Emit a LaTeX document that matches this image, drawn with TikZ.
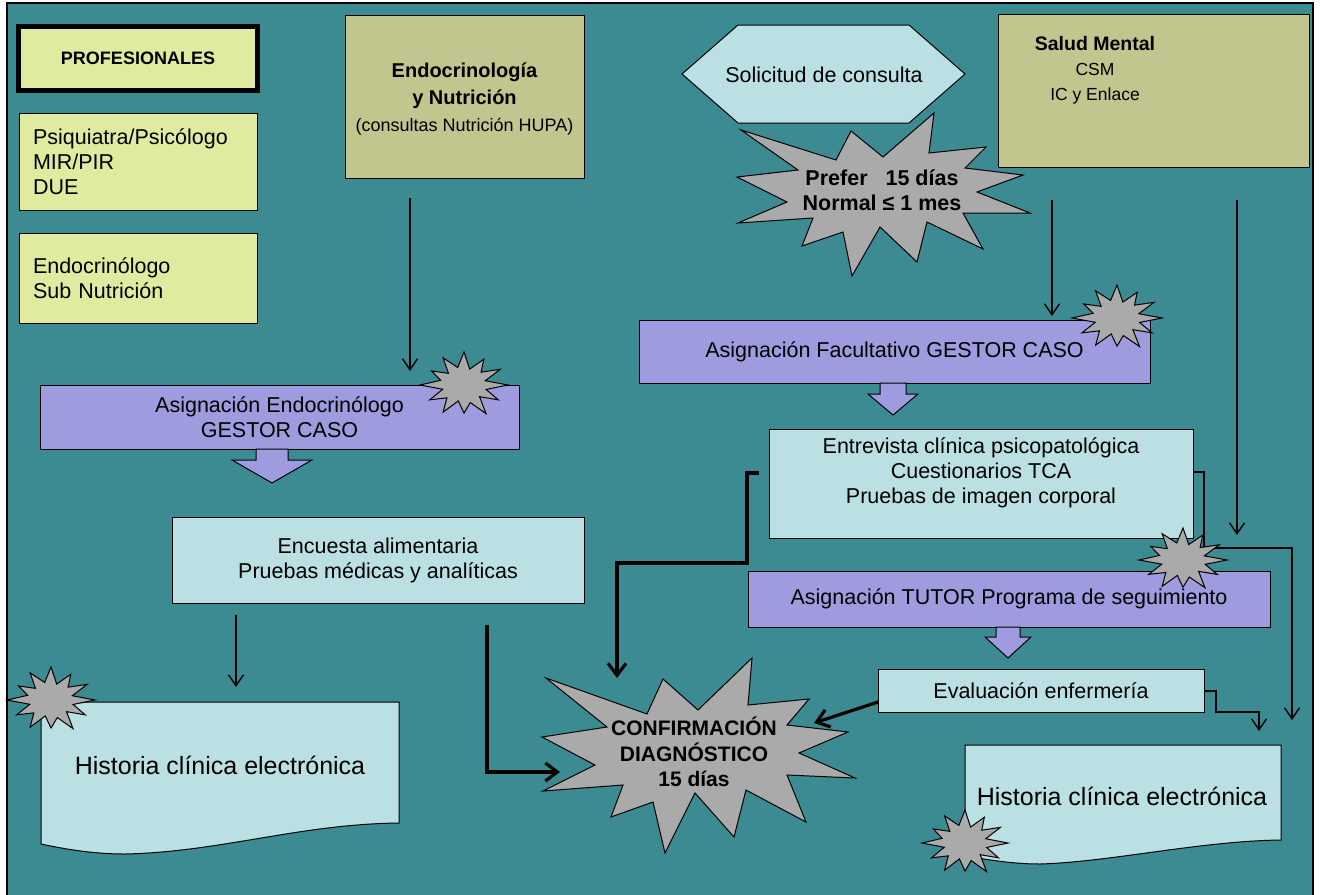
\documentclass[tikz,border=0pt]{standalone}
\usepackage{fontspec}
\setmainfont{Liberation Sans}
\usetikzlibrary{arrows.meta}

\definecolor{bgteal}{RGB}{60,139,146}
\definecolor{legendfill}{RGB}{224,235,160}
\definecolor{olive}{RGB}{194,197,142}
\definecolor{pale}{RGB}{186,224,227}
\definecolor{lilac}{RGB}{158,155,222}
\definecolor{burstgray}{RGB}{170,170,170}

\newcommand{\txtbody}{\fontsize{21.5}{25}\selectfont}
\newcommand{\txtdoc}{\fontsize{25}{29}\selectfont}
\newcommand{\txthead}{\fontsize{20}{27}\selectfont\bfseries}
\newcommand{\txtsub}{\fontsize{18}{26}\selectfont\mdseries}
\newcommand{\txtsalud}{\fontsize{17.5}{25}\selectfont}
\newcommand{\txtburst}{\fontsize{21.5}{25}\selectfont\bfseries}
\newcommand{\txtconf}{\fontsize{21}{25.5}\selectfont\bfseries}

% small twelve-point burst centred at (#1,#2) with radii #3, #4
\newcommand{\spark}[4]{%
  \begin{scope}[shift={(#1,#2)}]
    \draw[burstshape] (0:#3 and #4)
      \foreach \ang/\rad in {15/0.52,30/0.9,45/0.5,60/1.0,75/0.55,90/0.85,105/0.5,120/0.95,135/0.55,150/0.9,165/0.5,180/1.0,195/0.55,210/0.85,225/0.5,240/0.95,255/0.55,270/1.0,285/0.5,300/0.9,315/0.55,330/0.95,345/0.5}
        { -- (\ang:{\rad*#3} and {\rad*#4}) } -- cycle;
  \end{scope}}

% fat down arrow: centre x, top y, shaft half width, head half width, shaft end y, tip y
\newcommand{\downblock}[6]{%
  \draw[blockarrow] ({#1-#3},#2) -- ({#1+#3},#2) -- ({#1+#3},#5) -- ({#1+#4},#5)
    -- (#1,#6) -- ({#1-#4},#5) -- ({#1-#3},#5) -- cycle;}

\begin{document}
\begin{tikzpicture}[x=1pt,y=-1pt,
  panel/.style={draw=black, line width=1pt, inner sep=0pt, outer sep=0pt, anchor=north west},
  legendbox/.style={panel, fill=legendfill},
  headbox/.style={panel, fill=olive},
  stepbox/.style={panel, fill=lilac},
  infobox/.style={panel, fill=pale},
  txt/.style={inner sep=0pt, outer sep=0pt, align=center},
  burstshape/.style={draw=black, line width=1pt, fill=burstgray, line join=miter},
  blockarrow/.style={draw=black, line width=1pt, fill=lilac},
  thinconn/.style={draw=black, line width=1.4pt, -{Straight Barb[length=11pt,width=15pt]}},
  thickconn/.style={draw=black, line width=3.2pt, -{Straight Barb[length=12pt,width=18pt]}}
]
\useasboundingbox (0,0) rectangle (1322,894);
\fill[white] (0,0) rectangle (1322,894);
\draw[fill=bgteal, line width=1.5pt] (7,3) rectangle (1313,897);

% legend
\node[legendbox, line width=4.5pt, minimum width=239pt, minimum height=64pt,
      font=\fontsize{18}{22}\selectfont\bfseries] (prof) at (18.5,26.5) {PROFESIONALES};
\node[legendbox, minimum width=238pt, minimum height=97pt, inner xsep=14pt,
      text width=210pt, align=left, font=\txtbody] (legpsi) at (19,113)
      {Psiquiatra/Psicólogo\\MIR/PIR\\DUE};
\node[legendbox, minimum width=238pt, minimum height=90pt, inner xsep=14pt,
      text width=210pt, align=left, font=\txtbody] (legendo) at (19,233)
      {Endocrinólogo\\Sub Nutrición};

% services
\node[headbox, minimum width=239pt, minimum height=163pt] (endo) at (345,15) {};
\node[txt, font=\txthead] (endotxt) at (464.5,99)
  {Endocrinología\\y Nutrición\\{\txtsub (consultas Nutrición HUPA)}};
\node[headbox, minimum width=311pt, minimum height=153pt] (salud) at (998,14) {};
\node[txt, font=\txtsalud] (saludtxt) at (1095,70)
  {{\fontsize{19.5}{25}\selectfont\bfseries Salud Mental}\\CSM\\IC y Enlace};

% request and waiting times
\draw[fill=pale, line width=1pt] (682,74) -- (738,25) -- (909,25) -- (965,74)
  -- (909,123) -- (738,123) -- cycle;
\node[txt, font=\txtbody] (solic) at (824,75) {Solicitud de consulta};
\draw[burstshape] (741,130) -- (836,160) -- (851,131) -- (883,157) -- (934,113)
  -- (929,153) -- (986,147) -- (965,168) -- (1023,175) -- (977,192) -- (1030,213)
  -- (963,213) -- (983,249) -- (927,222) -- (917,262) -- (880,227) -- (852,276)
  -- (843,232) -- (802,246) -- (813,218) -- (738,223) -- (787,202) -- (737,177)
  -- (798,170) -- cycle;
\node[txt, font=\txtburst] (prefer) at (882,190)
  {Prefer\hspace{18pt}15 días\\Normal ≤ 1 mes};

% process steps
\node[stepbox, minimum width=479pt, minimum height=64pt, font=\txtbody, align=center]
  (asigE) at (40,385) {Asignación Endocrinólogo\\GESTOR CASO};
\node[stepbox, minimum width=511pt, minimum height=63pt, font=\txtbody]
  (asigF) at (639,320) {Asignación Facultativo GESTOR CASO};
\node[infobox, minimum width=424pt, minimum height=109pt] (entrev) at (769,429) {};
\node[txt, font=\txtbody] (entrevtxt) at (981,473)
  {Entrevista clínica psicopatológica\\Cuestionarios TCA\\Pruebas de imagen corporal};
\node[stepbox, minimum width=522pt, minimum height=56pt, font=\txtbody]
  (tutor) at (748,571) {Asignación TUTOR Programa de seguimiento};
\node[infobox, minimum width=326pt, minimum height=43pt, font=\txtbody]
  (evalu) at (878,669) {Evaluación enfermería};
\node[infobox, minimum width=412pt, minimum height=86pt, font=\txtbody, align=center]
  (encu) at (172,517) {Encuesta alimentaria\\Pruebas médicas y analíticas};

% block arrows between steps
\downblock{272}{449}{16}{40}{460}{483}
\downblock{893}{383}{13}{25}{394}{415}
\downblock{1008}{627}{12}{23}{637}{658}

% electronic records
\draw[infobox] (41,702) -- (399,702) -- (399,823)
  .. controls (300,824) and (220,852) .. (125,854)
  .. controls (90,854) and (60,848) .. (41,844) -- cycle;
\node[txt, font=\txtdoc] (histL) at (220,765) {Historia clínica electrónica};
\draw[infobox] (965,745) -- (1281,745) -- (1281,840)
  .. controls (1200,841) and (1110,862) .. (1040,864)
  .. controls (1010,864) and (985,859) .. (965,856) -- cycle;
\node[txt, font=\txtdoc] (histR) at (1122,796) {Historia clínica electrónica};

% connector end points
\coordinate (e1) at (410,198);   \coordinate (e2) at (410,371);
\coordinate (s1) at (1052,200);  \coordinate (s2) at (1052,316);
\coordinate (s3) at (1237,200);  \coordinate (s4) at (1237,535);
\coordinate (entrevR) at (1193,472); \coordinate (hrA) at (1292,720);
\coordinate (evalR) at (1204,691);   \coordinate (hrB) at (1259,731);
\coordinate (encD) at (236,615);     \coordinate (hlA) at (236,687);
\coordinate (entrevL) at (759,473);  \coordinate (cfA) at (617,678);
\coordinate (encR) at (487,625);     \coordinate (cfB) at (560,772);
\coordinate (evalL) at (878,702);    \coordinate (cfC) at (814,723);

% thin connectors
\draw[thinconn] (e1) -- (e2);
\draw[thinconn] (s1) -- (s2);
\draw[thinconn] (s3) -- (s4);
\draw[thinconn] (entrevR) -- ++(11,0) -- ++(0,76) -- ++(88,0) -- (hrA);
\draw[thinconn] (evalR) -- ++(12,0) -- ++(0,21) -- ++(43,0) -- (hrB);
\draw[thinconn] (encD) -- (hlA);

% thick connectors to the diagnosis
\draw[thickconn] (entrevL) -- ++(-12,0) -- ++(0,90) -- ++(-130,0) -- (cfA);
\draw[thickconn] (encR) -- ++(0,147) -- (cfB);
\draw[thickconn] (evalL) -- (cfC);

% diagnosis burst
\draw[burstshape] (546,678) -- (647,714) -- (663,679) -- (698,710) -- (752,658)
  -- (748,705) -- (809,699) -- (787,725) -- (848,732) -- (799,753) -- (855,778)
  -- (787,775) -- (806,822) -- (746,790) -- (734,837) -- (695,793) -- (665,853)
  -- (653,802) -- (611,817) -- (623,785) -- (543,791) -- (595,765) -- (542,737)
  -- (607,727) -- cycle;
\node[txt, font=\txtconf] (confirm) at (694,752)
  {CONFIRMACIÓN\\DIAGNÓSTICO\\15 días};

% small bursts
\spark{464}{385}{44}{33}
\spark{1117}{318}{45}{33}
\spark{1183}{560}{44}{32}
\spark{51}{700}{44}{33}
\spark{965}{843}{43}{33}
\end{tikzpicture}
\end{document}
